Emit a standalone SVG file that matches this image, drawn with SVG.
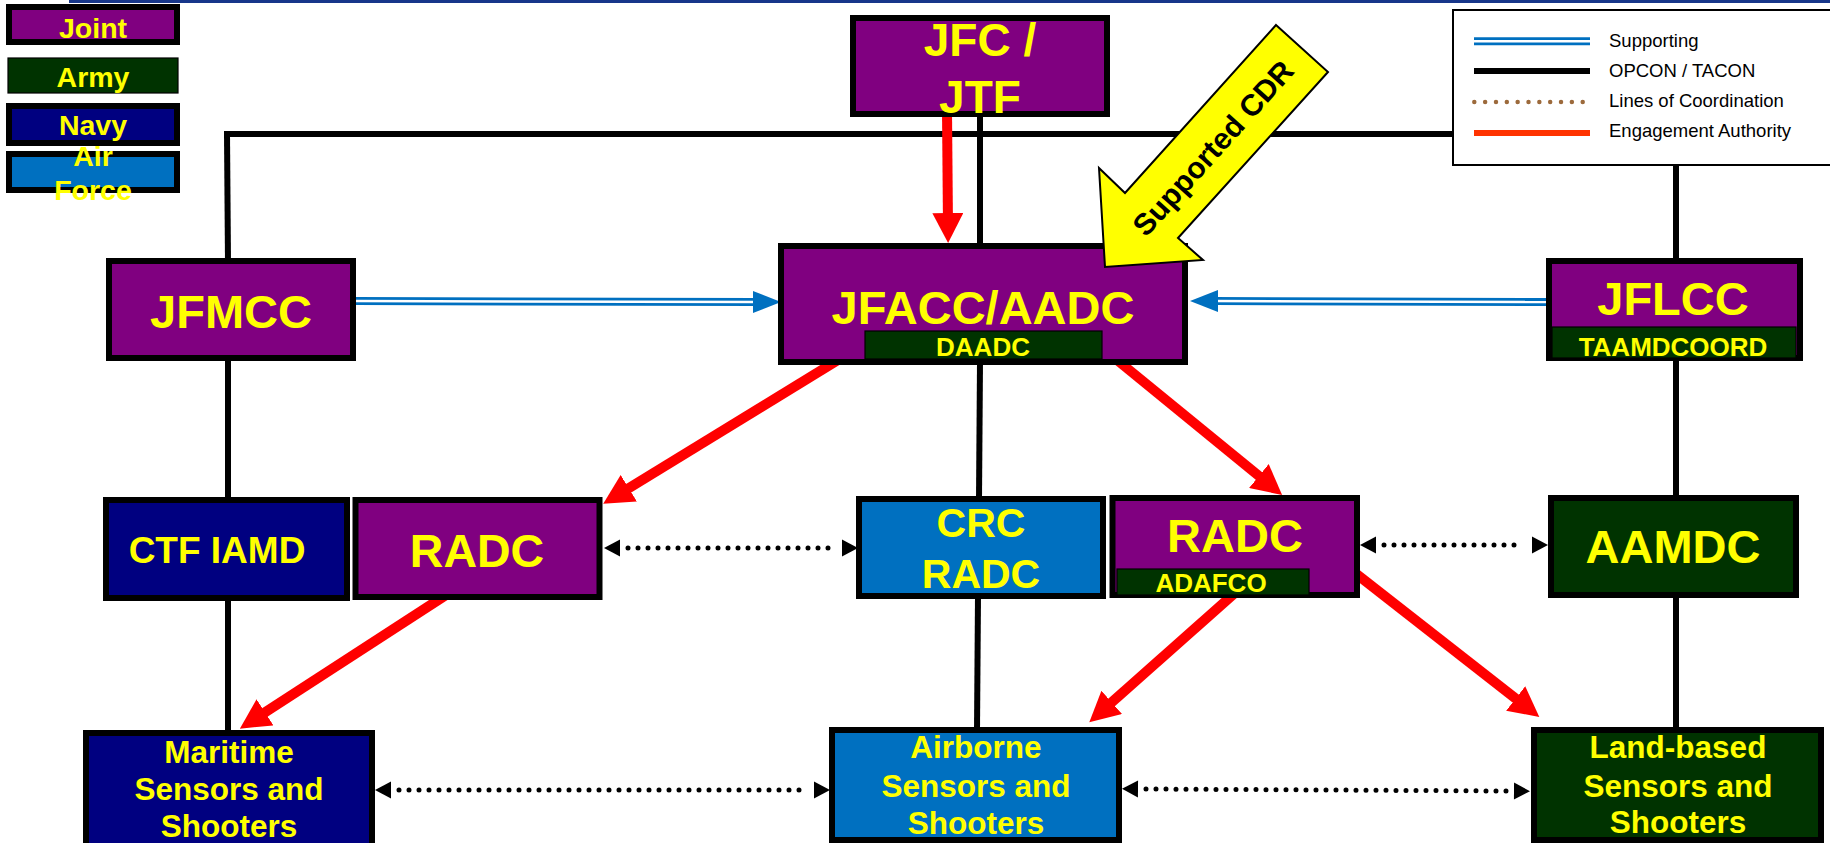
<svg xmlns="http://www.w3.org/2000/svg" width="1830" height="843" viewBox="0 0 1830 843">
<defs>
<style>
.box{stroke:#000;stroke-width:6}
.joint{fill:#800080}
.army{fill:#003300}
.navy{fill:#000080}
.af{fill:#0070C0}
.sub{fill:#003300;stroke:#000;stroke-width:1.2}
.t{font-family:"Liberation Sans",Arial,sans-serif;font-weight:bold;fill:#FFFF00;text-anchor:middle}
.lg{font-family:"Liberation Sans",Arial,sans-serif;font-size:18.5px;fill:#000}
.opcon{stroke:#000;stroke-width:6;fill:none}
.eng{stroke:#FF0000;stroke-width:10;fill:none;marker-end:url(#redHead)}
.dot{stroke:#000;stroke-width:5;stroke-linecap:round;stroke-dasharray:0 10;fill:none;marker-start:url(#dotHead);marker-end:url(#dotHead)}
.supB{stroke:#0070C0;stroke-width:8;fill:none}
.supW{stroke:#fff;stroke-width:2.5;fill:none}
</style>
<marker id="redHead" markerUnits="userSpaceOnUse" markerWidth="30" markerHeight="31" viewBox="0 0 30 31" refX="15" refY="15.5" orient="auto">
<path d="M0,0 L30,15.5 L0,31 z" fill="#FF0000"/>
</marker>
<marker id="dotHead" markerUnits="userSpaceOnUse" markerWidth="20" markerHeight="20" refX="-8" refY="0" orient="auto-start-reverse" overflow="visible">
<path d="M0,-8.5 L16,0 L0,8.5 z" fill="#000"/>
</marker>
</defs>
<rect x="0" y="0" width="1830" height="843" fill="#fff"/>
<rect x="69" y="0" width="1761" height="3" fill="#17368A"/>

<g id="connectors">
<line class="opcon" x1="224" y1="134" x2="1679" y2="134"/>
<line class="opcon" x1="227" y1="134" x2="228" y2="262"/>
<line class="opcon" x1="228" y1="358" x2="228" y2="500"/>
<line class="opcon" x1="228" y1="596" x2="228" y2="733"/>
<line class="opcon" x1="980" y1="110" x2="980" y2="246"/>
<line class="opcon" x1="980" y1="362" x2="979" y2="499"/>
<line class="opcon" x1="978" y1="596" x2="977" y2="730"/>
<line class="opcon" x1="1676" y1="134" x2="1676" y2="262"/>
<line class="opcon" x1="1676" y1="358" x2="1676" y2="498"/>
<line class="opcon" x1="1676" y1="596" x2="1676" y2="730"/>

<line class="supB" x1="356" y1="301" x2="756" y2="302"/>
<line class="supW" x1="356" y1="301" x2="756" y2="302"/>
<polygon points="781,302 753,291 753,313" fill="#0070C0"/>
<line class="supB" x1="1215" y1="301" x2="1546" y2="302"/>
<line class="supW" x1="1215" y1="301" x2="1546" y2="302"/>
<polygon points="1190,301 1218,290 1218,312" fill="#0070C0"/>

<line class="eng" x1="947" y1="110" x2="948" y2="228"/>
<line class="eng" x1="838" y1="360" x2="616" y2="496"/>
<line class="eng" x1="1117" y1="360" x2="1270.5" y2="485.5"/>
<line class="eng" x1="446" y1="595" x2="252.4" y2="720.5"/>
<line class="eng" x1="1236" y1="592" x2="1100.5" y2="712.3"/>
<line class="eng" x1="1350" y1="569" x2="1527.5" y2="707.7"/>

<line class="dot" x1="628" y1="548" x2="834" y2="548"/>
<line class="dot" x1="1384" y1="545" x2="1524" y2="545"/>
<line class="dot" x1="399" y1="790" x2="806" y2="790"/>
<line class="dot" x1="1146" y1="789" x2="1506" y2="791"/>
</g>

<g id="key-joint">
<rect class="box joint" x="9" y="7" width="168" height="35"/>
<text class="t" x="93" y="38" font-size="28.5">Joint</text>
</g>
<g id="key-army">
<rect class="army" x="8" y="58" width="170" height="35" stroke="#000" stroke-width="1.2"/>
<text class="t" x="93" y="87" font-size="28.5">Army</text>
</g>
<g id="key-navy">
<rect class="box navy" x="9" y="106" width="168" height="37"/>
<text class="t" x="93" y="135" font-size="28.5">Navy</text>
</g>
<g id="key-airforce">
<rect class="box af" x="9" y="154" width="168" height="36"/>
<text class="t" x="93" y="166" font-size="28.5">Air</text>
<text class="t" x="93" y="200" font-size="28.5">Force</text>
</g>

<g id="legend">
<rect x="1453" y="10" width="390" height="155" fill="#fff" stroke="#000" stroke-width="2"/>
<line class="supB" x1="1474" y1="41.3" x2="1590" y2="41.3"/>
<line class="supW" x1="1474" y1="41.3" x2="1590" y2="41.3"/>
<line x1="1474" y1="71" x2="1590" y2="71" stroke="#000" stroke-width="6"/>
<line x1="1474.3" y1="102" x2="1583" y2="102" stroke="#9C6A3C" stroke-width="4.5" stroke-linecap="round" stroke-dasharray="0 10.84"/>
<line x1="1474" y1="133" x2="1590" y2="133" stroke="#FF3300" stroke-width="6"/>
<text class="lg" x="1609" y="47">Supporting</text>
<text class="lg" x="1609" y="76.5">OPCON / TACON</text>
<text class="lg" x="1609" y="107">Lines of Coordination</text>
<text class="lg" x="1609" y="137">Engagement Authority</text>
</g>

<g id="jfc">
<rect class="box joint" x="853" y="18" width="254" height="96"/>
<text class="t" x="980" y="56" font-size="46">JFC /</text>
<text class="t" x="980" y="113" font-size="46">JTF</text>
</g>

<g id="jfmcc">
<rect class="box joint" x="109" y="261" width="244" height="97"/>
<text class="t" x="231" y="328" font-size="47">JFMCC</text>
</g>

<g id="jfacc">
<rect class="box joint" x="781" y="246" width="404" height="116"/>
<text class="t" x="983" y="324" font-size="47">JFACC/AADC</text>
<rect class="sub" x="865" y="331" width="237" height="28"/>
<text class="t" x="983" y="356" font-size="26">DAADC</text>
</g>

<g id="jflcc">
<rect class="box joint" x="1549" y="261" width="251" height="97"/>
<text class="t" x="1673" y="315" font-size="47">JFLCC</text>
<rect class="sub" x="1552" y="327" width="244" height="31"/>
<text class="t" x="1673" y="356" font-size="26">TAAMDCOORD</text>
</g>

<g id="ctf-iamd">
<rect class="box navy" x="106" y="500" width="241" height="98"/>
<text class="t" x="217" y="563" font-size="37">CTF IAMD</text>
</g>

<g id="radc-left">
<rect class="box joint" x="355.5" y="500" width="244" height="97"/>
<text class="t" x="477" y="567" font-size="46.5">RADC</text>
</g>

<g id="crc-radc">
<rect class="box af" x="859" y="499" width="244" height="97"/>
<text class="t" x="981" y="537" font-size="41">CRC</text>
<text class="t" x="981" y="588" font-size="41">RADC</text>
</g>

<g id="radc-right">
<rect class="box joint" x="1112.5" y="498" width="244.5" height="97"/>
<text class="t" x="1235" y="552" font-size="47">RADC</text>
<rect class="sub" x="1117" y="569" width="192" height="26"/>
<text class="t" x="1211" y="592" font-size="26">ADAFCO</text>
</g>

<g id="aamdc">
<rect class="box army" x="1551" y="498" width="245" height="97"/>
<text class="t" x="1673" y="563" font-size="47">AAMDC</text>
</g>

<g id="maritime">
<rect class="box navy" x="86" y="733" width="286" height="115"/>
<text class="t" x="229" y="763" font-size="31.5">Maritime</text>
<text class="t" x="229" y="800" font-size="31.5">Sensors and</text>
<text class="t" x="229" y="837" font-size="31.5">Shooters</text>
</g>

<g id="airborne">
<rect class="box af" x="832" y="730" width="287" height="110"/>
<text class="t" x="976" y="758" font-size="31.5">Airborne</text>
<text class="t" x="976" y="797" font-size="31.5">Sensors and</text>
<text class="t" x="976" y="834" font-size="31.5">Shooters</text>
</g>

<g id="landbased">
<rect class="box army" x="1534" y="730" width="287" height="110"/>
<text class="t" x="1678" y="758" font-size="31.5">Land-based</text>
<text class="t" x="1678" y="797" font-size="31.5">Sensors and</text>
<text class="t" x="1678" y="833" font-size="31.5">Shooters</text>
</g>

<g id="supported-cdr">
<polygon points="1276,25 1328,72 1178,238 1203,260 1105,267 1099,168 1125,193" fill="#FFFF00" stroke="#000" stroke-width="2"/>
<text x="1213" y="148" transform="rotate(-48 1213 148)" dy="10.5" font-family="Liberation Sans, Arial, sans-serif" font-weight="bold" font-size="30" fill="#000" text-anchor="middle">Supported CDR</text>
</g>
</svg>
